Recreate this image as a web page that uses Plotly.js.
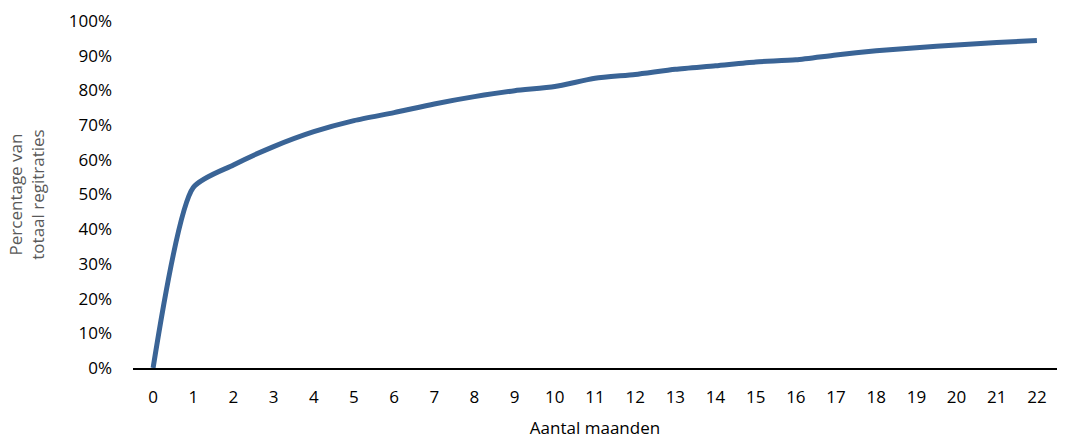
<!DOCTYPE html>
<html>
<head>
<meta charset="utf-8">
<script src="https://cdn.plot.ly/plotly-3.0.1.min.js"></script>
<style>html,body{margin:0;padding:0;background:#fff;}#chart{width:1088px;height:439px;}</style>
</head>
<body>
<div id="chart"></div>
<script>
const months = ["0","1","2","3","4","5","6","7","8","9","10","11","12","13","14","15","16","17","18","19","20","21","22"];
const percentages = [0, 0.52, 0.585, 0.638, 0.681, 0.713, 0.736, 0.761, 0.782, 0.799, 0.811, 0.835, 0.846, 0.861, 0.871, 0.882, 0.888, 0.902, 0.914, 0.923, 0.931, 0.938, 0.944];
const xTitle = "Aantal maanden";
const yTitle = "Percentage van<br>totaal regitraties";

const font = "'Open Sans', sans-serif";

Plotly.newPlot("chart", [{
  x: months,
  y: percentages,
  type: "scatter",
  mode: "lines",
  line: {color: "#3a6496", width: 5, shape: "spline", smoothing: 0.65},
  hoverinfo: "skip"
}], {
  width: 1088, height: 439,
  margin: {l: 133, r: 31, t: 21, b: 71, pad: 0},
  paper_bgcolor: "#fff", plot_bgcolor: "#fff",
  showlegend: false,
  font: {family: font, size: 17, color: "#000"},
  xaxis: {
    type: "category",
    range: [-0.5, 22.5],
    showgrid: false, zeroline: false,
    showline: true, linecolor: "#000", linewidth: 1.5,
    ticks: "", ticklabelstandoff: 13,
    tickfont: {family: font, size: 17, color: "#000"},
    title: {text: xTitle, font: {family: font, size: 17, color: "#000"}, standoff: 18}
  },
  yaxis: {
    range: [0, 1],
    tickvals: [0,0.1,0.2,0.3,0.4,0.5,0.6,0.7,0.8,0.9,1],
    tickformat: ".0%",
    showgrid: false, zeroline: false, showline: false,
    ticks: "", ticklabelstandoff: 20,
    tickfont: {family: font, size: 17, color: "#000"},
    title: {text: yTitle, font: {family: font, size: 17, color: "#595959"}, standoff: 19}
  }
}, {displayModeBar: false, staticPlot: true});
</script>
</body>
</html>
